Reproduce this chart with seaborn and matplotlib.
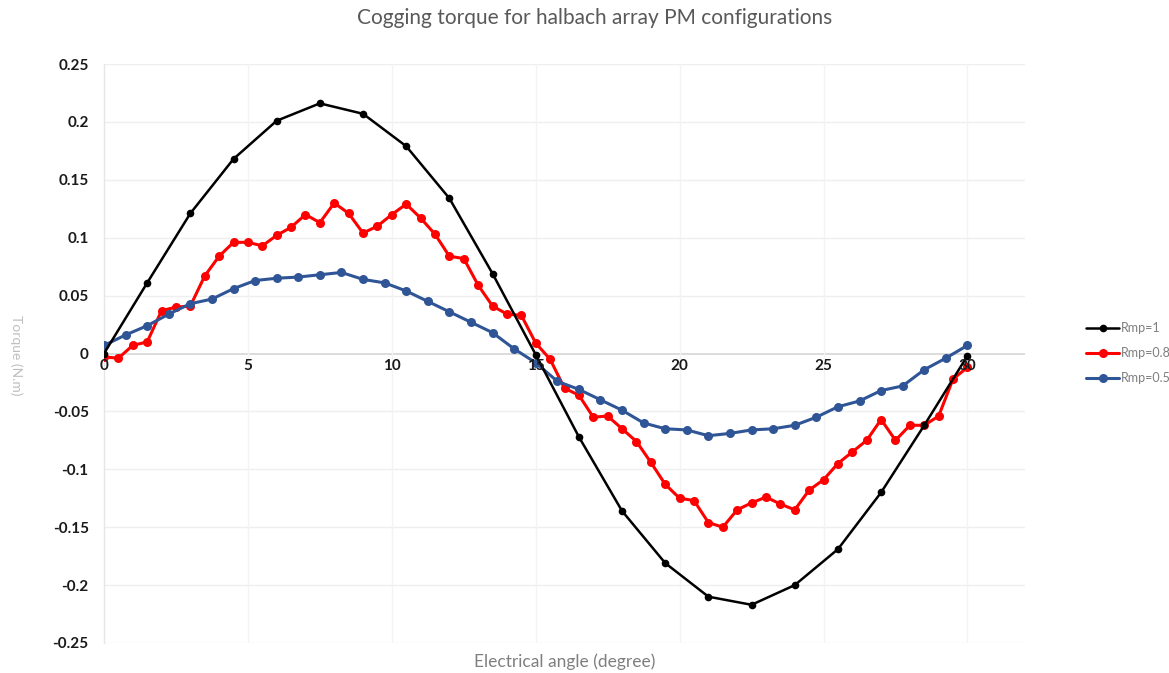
import numpy as np
import pandas as pd
import matplotlib
matplotlib.use("Agg")
import matplotlib.pyplot as plt
import seaborn as sns

# ---- data ----
angle_rmp1 = [0, 1.5, 3, 4.5, 6, 7.5, 9, 10.5, 12, 13.5, 15, 16.5, 18, 19.5, 21,
              22.5, 24, 25.5, 27, 28.5, 30]
torque_rmp1 = [0.0, 0.061, 0.121, 0.168, 0.201, 0.216, 0.207, 0.179, 0.134, 0.069,
               -0.001, -0.072, -0.136, -0.181, -0.210, -0.217, -0.200, -0.169,
               -0.120, -0.062, -0.002]

angle_rmp08 = [i * 0.5 for i in range(61)]
torque_rmp08 = [-0.003, -0.004, 0.007, 0.010, 0.037, 0.040, 0.041, 0.067, 0.084, 0.096,
                0.096, 0.093, 0.102, 0.109, 0.120, 0.113, 0.130, 0.121, 0.104, 0.110,
                0.120, 0.129, 0.117, 0.103, 0.084, 0.082, 0.059, 0.041, 0.034, 0.033,
                0.009, -0.005, -0.030, -0.036, -0.055, -0.054, -0.065, -0.076, -0.094, -0.113,
                -0.125, -0.127, -0.146, -0.150, -0.135, -0.129, -0.124, -0.130, -0.135, -0.118,
                -0.109, -0.095, -0.085, -0.075, -0.057, -0.075, -0.062, -0.062, -0.054, -0.022,
                -0.012]

angle_rmp05 = [i * 0.75 for i in range(41)]
torque_rmp05 = [0.007, 0.016, 0.024, 0.034, 0.043, 0.047, 0.056, 0.063, 0.065, 0.066,
                0.068, 0.070, 0.064, 0.061, 0.054, 0.045, 0.036, 0.027, 0.018, 0.004,
                -0.008, -0.024, -0.031, -0.040, -0.049, -0.060, -0.065, -0.066, -0.071, -0.069,
                -0.066, -0.065, -0.062, -0.055, -0.046, -0.041, -0.032, -0.028, -0.014, -0.004,
                0.007]

series_names = ["Rmp=1", "Rmp=0.8", "Rmp=0.5"]
x_ticks = [0, 5, 10, 15, 20, 25, 30]
y_ticks = [0.25, 0.2, 0.15, 0.1, 0.05, 0, -0.05, -0.1, -0.15, -0.2, -0.25]
y_tick_labels = ["0.25", "0.2", "0.15", "0.1", "0.05", "0", "-0.05", "-0.1", "-0.15", "-0.2", "-0.25"]

title = "Cogging torque for halbach array PM configurations"
xlabel = "Electrical angle (degree)"
ylabel = "Torque (N.m)"

# ---- style ----
sns.set_theme(style="white")
plt.rcParams['font.family'] = ['Lato', 'DejaVu Sans']

fig = plt.figure(figsize=(11.69, 6.73), dpi=100)
ax = fig.add_axes([104 / 1169, 1 - 643 / 673, (1025 - 104) / 1169, (643 - 64) / 673])

df1 = pd.DataFrame({"angle": angle_rmp1, "torque": torque_rmp1, "series": series_names[0]})
df2 = pd.DataFrame({"angle": angle_rmp08, "torque": torque_rmp08, "series": series_names[1]})
df3 = pd.DataFrame({"angle": angle_rmp05, "torque": torque_rmp05, "series": series_names[2]})

colors = ["#000000", "#ff0000", "#2f5597"]

sns.lineplot(data=df1, x="angle", y="torque", ax=ax, color=colors[0], lw=1.8,
             marker="o", markersize=5.5, markeredgewidth=0, label=series_names[0], sort=False, zorder=4)
sns.lineplot(data=df2, x="angle", y="torque", ax=ax, color=colors[1], lw=2.2,
             marker="o", markersize=6.5, markeredgewidth=0, label=series_names[1], sort=False, zorder=3)
sns.lineplot(data=df3, x="angle", y="torque", ax=ax, color=colors[2], lw=2.2,
             marker="o", markersize=6.5, markeredgewidth=0, label=series_names[2], sort=False, zorder=3)

ax.set_xlim(0, 32)
ax.set_ylim(-0.25, 0.25)

# grid
for yv in y_ticks:
    ax.axhline(yv, color="#d9d9d9" if yv == 0 else "#efefef", lw=1.3 if yv == 0 else 1.0, zorder=1)
for xv in x_ticks[1:]:
    ax.axvline(xv, color="#f3f3f3", lw=1.0, zorder=1)

for s in ["top", "right", "bottom"]:
    ax.spines[s].set_visible(False)
ax.spines["left"].set_color("#e6e6e6")
ax.spines["left"].set_linewidth(1.0)

ax.set_yticks(y_ticks)
ax.set_yticklabels(y_tick_labels, fontsize=11, fontweight="bold", color="#1a1a1a")
ax.tick_params(axis="y", length=0, pad=11)

ax.set_xticks([])
for xv in x_ticks:
    ax.text(xv, -0.005, str(xv), ha="center", va="top", fontsize=11,
            fontweight="bold", color="#1a1a1a", zorder=5)

ax.set_xlabel("")
ax.set_ylabel("")

fig.text(565 / 1169, 1 - 662 / 673, xlabel, ha="center", va="center",
         fontsize=12.5, color="#7f7f7f")
fig.text(16 / 1169, 1 - 355 / 673, ylabel, ha="center", va="center",
         fontsize=10, color="#bfbfbf", rotation=270)
fig.text(595 / 1169, 1 - 18 / 673, title, ha="center", va="center",
         fontsize=15, color="#595959")

leg = ax.legend(loc="center left", bbox_to_anchor=(1080 / 1169, 1 - 353 / 673),
                bbox_transform=fig.transFigure, frameon=False, fontsize=9,
                handlelength=2.6, labelspacing=1.05, handletextpad=0.2, borderpad=0)
for t in leg.get_texts():
    t.set_color("#7f7f7f")

fig.savefig("out.png", dpi=100)
